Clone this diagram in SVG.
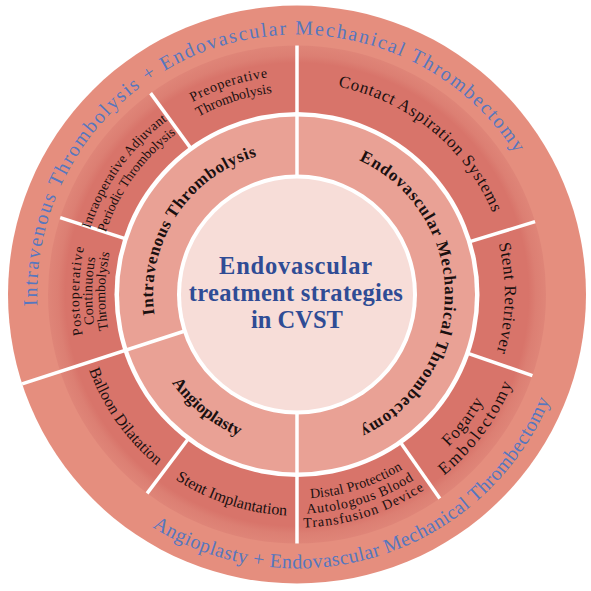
<svg xmlns="http://www.w3.org/2000/svg" width="591" height="591" viewBox="0 0 591 591">
<style>
.s{font-family:"Liberation Serif","Times New Roman",serif;fill:#1a1010;text-anchor:middle}
.b{font-weight:bold;font-size:17px}
.arc{fill:#5677BF;font-size:20px}
.ctr{fill:#2F4C95;font-size:24.5px;font-weight:bold}
.sm{font-size:13.5px}
.md{font-size:17px}
.dv{stroke:#fff;stroke-width:3.5;fill:none}
</style>
<defs>
<radialGradient id="gMid" gradientUnits="userSpaceOnUse" cx="297" cy="294.5" r="249">
<stop offset="0" stop-color="#D8746A"/>
<stop offset="0.93" stop-color="#D8746A"/>
<stop offset="0.96" stop-color="#DC7F73"/>
<stop offset="1" stop-color="#DF8578"/>
</radialGradient>
<path id="cw260" d="M37.16 285.43A260 260 0 0 1 556.84 285.43"/>
<path id="cw144" d="M153.09 289.47A144 144 0 0 1 440.91 289.47"/>
<path id="cw148" d="M149.09 289.33A148 148 0 0 1 444.91 289.33"/>
<path id="cw219" d="M78.13 286.86A219 219 0 0 1 515.87 286.86"/>
<path id="cw203" d="M94.12 287.42A203 203 0 0 1 499.88 287.42"/>
<path id="cw217" d="M80.13 286.93A217 217 0 0 1 513.87 286.93"/>
<path id="cw201" d="M96.12 287.49A201 201 0 0 1 497.88 287.49"/>
<path id="cw218" d="M79.13 286.89A218 218 0 0 1 514.87 286.89"/>
<path id="cw205" d="M92.13 287.35A205 205 0 0 1 501.87 287.35"/>
<path id="cw192" d="M105.12 287.8A192 192 0 0 1 488.88 287.8"/>
<path id="cw212" d="M85.13 287.1A212 212 0 0 1 508.87 287.1"/>
<path id="cw208" d="M89.13 287.24A208 208 0 0 1 504.87 287.24"/>
<path id="ccw274" d="M23.17 304.06A274 274 0 0 0 570.83 304.06"/>
<path id="ccw153" d="M144.09 299.84A153 153 0 0 0 449.91 299.84"/>
<path id="ccw215" d="M82.13 302A215 215 0 0 0 511.87 302"/>
<path id="ccw233" d="M64.14 302.63A233 233 0 0 0 529.86 302.63"/>
<path id="ccw221" d="M76.13 302.21A221 221 0 0 0 517.87 302.21"/>
<path id="ccw204" d="M93.12 301.62A204 204 0 0 0 500.88 301.62"/>
<path id="ccw219" d="M78.13 302.14A219 219 0 0 0 515.87 302.14"/>
</defs>
<rect width="591" height="591" fill="#fff"/>
<g id="rings">
<circle cx="297" cy="294.5" r="289" fill="#E58E7E"/>
<circle cx="297" cy="294.5" r="249" fill="url(#gMid)"/>
<circle cx="297" cy="294.5" r="182.5" fill="#fff"/>
<circle cx="297" cy="294.5" r="178" fill="#E9A195"/>
<circle cx="297" cy="294.5" r="120" fill="#fff"/>
<circle cx="297" cy="294.5" r="116" fill="#F7DDD8"/>
</g>
<g id="connectors">
<line class="dv" x1="297" y1="176.5" x2="297" y2="45.5"/>
<line class="dv" x1="297" y1="412.5" x2="297" y2="543.5"/>
<line class="dv" x1="184.8" y1="331" x2="22.1" y2="383.8"/>
<line class="dv" x1="191.2" y1="148.9" x2="150.6" y2="93.1"/>
<line class="dv" x1="125.8" y1="238.9" x2="60.2" y2="217.55"/>
<line class="dv" x1="188.7" y1="438.3" x2="147.1" y2="493.4"/>
<line class="dv" x1="400.2" y1="442" x2="439.8" y2="498.5"/>
<line class="dv" x1="467.2" y1="353.1" x2="532.4" y2="375.6"/>
<line class="dv" x1="469.1" y1="241.9" x2="535.1" y2="221.7"/>
</g>
<g id="combo-top">
<text class="s arc" letter-spacing="1.8" transform="rotate(-17.5 297 294.5)"><textPath href="#cw260" startOffset="50%">Intravenous Thrombolysis + Endovascular Mechanical Thrombectomy</textPath></text>
</g>
<g id="combo-bottom">
<text class="s arc" letter-spacing="0.4" transform="rotate(-17.7 297 294.5)"><textPath href="#ccw274" startOffset="50%">Angioplasty + Endovascular Mechanical Thrombectomy</textPath></text>
</g>
<g id="center">
<text class="s ctr" x="296" y="274" letter-spacing="0.8">Endovascular</text>
<text class="s ctr" x="296" y="301" letter-spacing="0.3">treatment strategies</text>
<text class="s ctr" x="297" y="328">in CVST</text>
</g>
<g id="ivt">
<text class="s b" letter-spacing="0.6" transform="rotate(-57 297 294.5)"><textPath href="#cw144" startOffset="50%">Intravenous Thrombolysis</textPath></text>
</g>
<g id="emt">
<text class="s b" letter-spacing="0.9" transform="rotate(90 297 294.5)"><textPath href="#cw148" startOffset="50%">Endovascular Mechanical Thrombectomy</textPath></text>
</g>
<g id="angioplasty">
<text class="s b" transform="rotate(38.6 297 294.5)"><textPath href="#ccw153" startOffset="50%">Angioplasty</textPath></text>
</g>
<g id="preop">
<text class="s" font-size="14" letter-spacing="0.8" transform="rotate(-18 297 294.5)"><textPath href="#cw219" startOffset="50%">Preoperative</textPath></text>
<text class="s" font-size="14" transform="rotate(-18 297 294.5)"><textPath href="#cw203" startOffset="50%">Thrombolysis</textPath></text>
</g>
<g id="intraop">
<text class="s sm" letter-spacing="0.3" transform="rotate(-54.5 297 294.5)"><textPath href="#cw217" startOffset="50%">Intraoperative Adjuvant</textPath></text>
<text class="s sm" transform="rotate(-54.5 297 294.5)"><textPath href="#cw201" startOffset="50%">Periodic Thrombolysis</textPath></text>
</g>
<g id="postop">
<text class="s" font-size="14" letter-spacing="1" transform="rotate(-89 297 294.5)"><textPath href="#cw218" startOffset="50%">Postoperative</textPath></text>
<text class="s" font-size="14" letter-spacing="0.3" transform="rotate(-89 297 294.5)"><textPath href="#cw205" startOffset="50%">Continuous</textPath></text>
<text class="s" font-size="14" transform="rotate(-89 297 294.5)"><textPath href="#cw192" startOffset="50%">Thrombolysis</textPath></text>
</g>
<g id="contact">
<text class="s md" letter-spacing="0.75" transform="rotate(39.35 297 294.5)"><textPath href="#cw212" startOffset="50%">Contact Aspiration Systems</textPath></text>
</g>
<g id="stent-retriever">
<text class="s md" letter-spacing="0.5" transform="rotate(91 297 294.5)"><textPath href="#cw208" startOffset="50%">Stent Retriever</textPath></text>
</g>
<g id="fogarty">
<text class="s md" letter-spacing="0.8" transform="rotate(-52.6 297 294.5)"><textPath href="#ccw215" startOffset="50%">Fogarty</textPath></text>
<text class="s md" letter-spacing="2" transform="rotate(-53.5 297 294.5)"><textPath href="#ccw233" startOffset="50%">Embolectomy</textPath></text>
</g>
<g id="distal">
<text class="s" font-size="14" letter-spacing="0.2" transform="rotate(-17.5 297 294.5)"><textPath href="#ccw204" startOffset="50%">Distal Protection</textPath></text>
<text class="s" font-size="14" letter-spacing="0.7" transform="rotate(-17.5 297 294.5)"><textPath href="#ccw219" startOffset="50%">Autologous Blood</textPath></text>
<text class="s" font-size="14" letter-spacing="1.1" transform="rotate(-17.5 297 294.5)"><textPath href="#ccw233" startOffset="50%">Transfusion Device</textPath></text>
</g>
<g id="stent-implantation">
<text class="s" font-size="16" transform="rotate(18 297 294.5)"><textPath href="#ccw221" startOffset="50%">Stent Implantation</textPath></text>
</g>
<g id="balloon">
<text class="s" font-size="16" transform="rotate(54.7 297 294.5)"><textPath href="#ccw221" startOffset="50%">Balloon Dilatation</textPath></text>
</g>
</svg>
